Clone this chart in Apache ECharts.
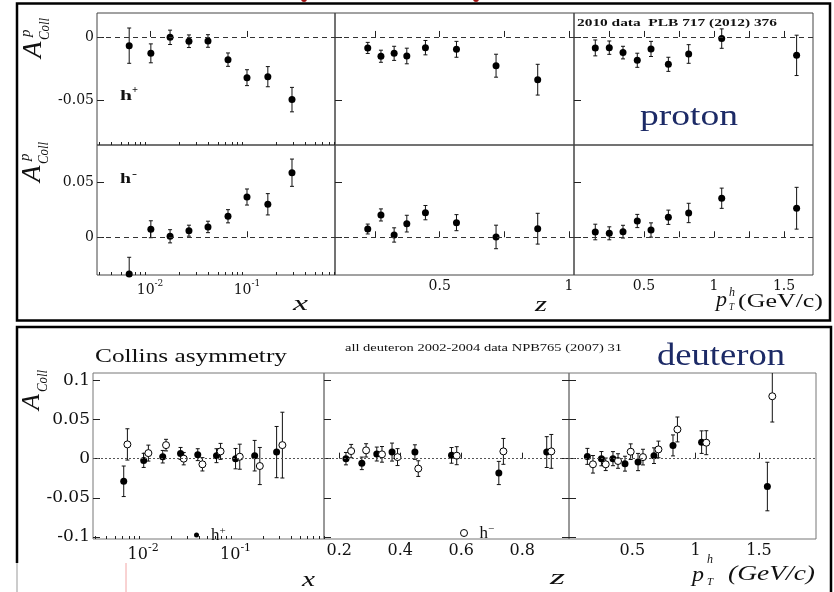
<!DOCTYPE html>
<html>
<head>
<meta charset="utf-8">
<script src="https://cdn.jsdelivr.net/npm/echarts@6/dist/echarts.min.js"></script>
<style>
html, body { margin: 0; background: #fff; }
#chart { width: 834px; height: 592px; }
</style>
</head>
<body>
<div id="chart"></div>
<script>
// ---- proton 2010 (all h+ / h- filled points) ----
const protonX = [0.0061, 0.0102, 0.0161, 0.0252, 0.0396, 0.0637, 0.100, 0.164, 0.291]
const protonZ = [0.222, 0.273, 0.324, 0.373, 0.445, 0.565, 0.718, 0.879]
const protonPt = [0.152, 0.252, 0.350, 0.452, 0.550, 0.674, 0.819, 1.055, 1.590]

const protonHpX = [-0.0069, -0.0130, -0.0003, -0.0034, -0.0032, -0.0180, -0.0323, -0.0315, -0.0497]
const protonHpXErr = [0.0140, 0.0075, 0.0057, 0.0050, 0.0050, 0.0053, 0.0063, 0.0080, 0.0097]
const protonHpZ = [-0.0087, -0.0153, -0.0130, -0.0151, -0.0085, -0.0098, -0.0228, -0.0339]
const protonHpZErr = [0.0044, 0.0048, 0.0056, 0.0062, 0.0057, 0.0063, 0.0091, 0.0122]
const protonHpPt = [-0.0087, -0.0085, -0.0124, -0.0185, -0.0095, -0.0217, -0.0135, -0.0013, -0.0146]
const protonHpPtErr = [0.0063, 0.0053, 0.0050, 0.0056, 0.0060, 0.0056, 0.0074, 0.0077, 0.0160]

const protonHmX = [-0.0334, 0.0073, 0.0009, 0.0060, 0.0094, 0.0191, 0.0366, 0.0300, 0.0587]
const protonHmXErr = [0.0152, 0.0077, 0.0060, 0.0050, 0.0052, 0.0060, 0.0073, 0.0097, 0.0124]
const protonHmZ = [0.0075, 0.0203, 0.0021, 0.0124, 0.0224, 0.0133, 0.0003, 0.0078]
const protonHmZErr = [0.0045, 0.0055, 0.0065, 0.0076, 0.0065, 0.0073, 0.0107, 0.0140]
const protonHmPt = [0.0048, 0.0036, 0.0051, 0.0148, 0.0066, 0.0182, 0.0221, 0.0355, 0.0264]
const protonHmPtErr = [0.0071, 0.0059, 0.0058, 0.0060, 0.0065, 0.0065, 0.0088, 0.0092, 0.0190]

// ---- deuteron 2002-2004 (h+ filled, h- open) ----
const deutXPos = [0.00617, 0.01015, 0.0163, 0.0254, 0.0390, 0.0622, 0.100, 0.161, 0.278]
const deutXNeg = [0.00676, 0.0114, 0.0177, 0.0275, 0.0438, 0.0688, 0.111, 0.183, 0.321]
const deutZPos = [0.222, 0.274, 0.323, 0.373, 0.448, 0.568, 0.723, 0.880]
const deutZNeg = [0.239, 0.288, 0.340, 0.391, 0.459, 0.585, 0.738, 0.895]
const deutPtPos = [0.145, 0.256, 0.347, 0.442, 0.545, 0.671, 0.821, 1.047, 1.566]
const deutPtNeg = [0.189, 0.290, 0.387, 0.487, 0.584, 0.706, 0.856, 1.084, 1.605]

const deutHpX = [-0.0289, -0.0022, 0.0025, 0.0067, 0.0051, 0.0038, 0.0000, 0.0038, 0.0084]
const deutHpXErr = [0.0195, 0.0090, 0.0080, 0.0076, 0.0076, 0.0089, 0.0130, 0.0195, 0.0327]
const deutHmX = [0.0182, 0.0071, 0.0173, 0.0000, -0.0072, 0.0093, 0.0025, -0.0094, 0.0173]
const deutHmXErr = [0.0200, 0.0102, 0.0074, 0.0079, 0.0085, 0.0102, 0.0160, 0.0237, 0.0420]
const deutHpZ = [0.0000, -0.0060, 0.0059, 0.0084, 0.0084, 0.0042, -0.0183, 0.0084]
const deutHpZErr = [0.0079, 0.0080, 0.0089, 0.0115, 0.0093, 0.0100, 0.0148, 0.0197]
const deutHmZ = [0.0097, 0.0106, 0.0055, 0.0020, -0.0127, 0.0038, 0.0093, 0.0093]
const deutHmZErr = [0.0085, 0.0085, 0.0100, 0.0108, 0.0100, 0.0115, 0.0165, 0.0216]
const deutHpPt = [0.0029, 0.0000, 0.0000, -0.0064, -0.0043, 0.0038, 0.0169, 0.0211, -0.0356]
const deutHpPtErr = [0.0102, 0.0091, 0.0090, 0.0095, 0.0110, 0.0100, 0.0134, 0.0144, 0.0310]
const deutHmPt = [-0.0072, -0.0072, -0.0030, 0.0089, 0.0020, 0.0118, 0.0373, 0.0204, 0.0797]
const deutHmPtErr = [0.0112, 0.0080, 0.0093, 0.0100, 0.0100, 0.0106, 0.0159, 0.0153, 0.0329]

// ---- ticks / labels ----
const logMajor = [0.01, 0.1]
const logMinor = [0.003, 0.004, 0.005, 0.006, 0.007, 0.008, 0.009, 0.02, 0.03, 0.04, 0.05,
  0.06, 0.07, 0.08, 0.09, 0.2, 0.3, 0.4, 0.5, 0.6, 0.7, 0.8, 0.9]
const zTicksP = [0.25, 0.5, 0.75, 1]
const zLabelsP = [0.5, 1]
const ptTicksP = [0.25, 0.5, 0.75, 1, 1.25, 1.5]
const ptLabels = [0.5, 1, 1.5]
const zTicksD = [0.2, 0.4, 0.6, 0.8]
const yTicksP1 = [-0.05, 0]
const yTicksP2 = [0, 0.05]
const yTicksD = [-0.1, -0.05, 0, 0.05, 0.1]

const SERIF = '"Liberation Serif", "DejaVu Serif", serif'
const TICKF = '"DejaVu Serif", serif'
const NAVY = '#1c2a66'

const chart = echarts.init(document.getElementById('chart'))

const grids = [
  { left: 97, top: 13, width: 238, height: 132 },
  { left: 335, top: 13, width: 239, height: 132 },
  { left: 574, top: 13, width: 239, height: 132 },
  { left: 97, top: 145, width: 238, height: 130 },
  { left: 335, top: 145, width: 239, height: 130 },
  { left: 574, top: 145, width: 239, height: 130 },
  { left: 93, top: 373, width: 231, height: 166 },
  { left: 324, top: 373, width: 245, height: 166 },
  { left: 569, top: 373, width: 247, height: 166 },
].map((g, i) => ({
  ...g, show: true, borderWidth: 1, borderColor: i < 6 ? '#444' : '#777',
  backgroundColor: 'transparent', containLabel: false, outerBoundsMode: 'none',
}))

const logFmt = v => `{b|10}{s|${Math.round(Math.log10(v))}}`
const numFmt = v => String(+(+v).toFixed(3))

function xAx(g, type, min, max, ticks, labels, fs) {
  const ax = {
    type, gridIndex: g, min, max, position: 'bottom',
    axisLine: { show: false }, splitLine: { show: false },
    axisTick: { show: true, inside: true, length: 6, customValues: ticks, lineStyle: { color: '#222' } },
    axisLabel: { show: !!labels, customValues: labels || [], margin: 4, color: '#111',
      fontFamily: TICKF, fontSize: fs, formatter: numFmt },
  }
  if (type === 'log') {
    ax.logBase = 10
    ax.axisLabel.formatter = logFmt
    ax.axisLabel.rich = {
      b: { fontFamily: TICKF, fontSize: fs, color: '#111', lineHeight: fs + 4, verticalAlign: 'bottom' },
      s: { fontFamily: TICKF, fontSize: fs - 5, color: '#111', lineHeight: fs + 4, verticalAlign: 'top' },
    }
  }
  return ax
}
function minorAx(g, min, max) {
  return {
    type: 'log', logBase: 10, gridIndex: g, min, max, position: 'bottom',
    axisLine: { show: false }, splitLine: { show: false },
    axisTick: { show: true, inside: true, length: 3, customValues: logMinor, lineStyle: { color: '#222' } },
    axisLabel: { show: false },
  }
}
function yAx(g, min, max, ticks, showLabel, fs, pos) {
  return {
    type: 'value', gridIndex: g, min, max, position: pos || 'left',
    axisLine: { show: false }, splitLine: { show: false },
    axisTick: { show: true, inside: true, length: 7, customValues: ticks, lineStyle: { color: '#222' } },
    axisLabel: { show: showLabel, customValues: ticks, margin: 3, color: '#111',
      fontFamily: TICKF, fontSize: fs, formatter: numFmt },
  }
}

const P1 = [-0.0857, 0.019], P2 = [-0.0343, 0.0839], D = [-0.1026, 0.1094]
const LOGP = [0.00284, 0.808], LOGD = [0.00287, 0.905]

const xAxes = [
  xAx(0, 'log', LOGP[0], LOGP[1], logMajor, null, 14),
  xAx(1, 'value', 0.0954, 1.0193, zTicksP, null, 14),
  xAx(2, 'value', 0, 1.707, ptTicksP, null, 14),
  xAx(3, 'log', LOGP[0], LOGP[1], logMajor, logMajor, 14),
  xAx(4, 'value', 0.0954, 1.0193, zTicksP, zLabelsP, 14),
  xAx(5, 'value', 0, 1.707, ptTicksP, ptLabels, 14),
  xAx(6, 'log', LOGD[0], LOGD[1], logMajor, logMajor, 16),
  xAx(7, 'value', 0.15, 0.953, zTicksD, zTicksD, 16),
  xAx(8, 'value', 0, 1.95, ptLabels, ptLabels, 16),
  minorAx(0, LOGP[0], LOGP[1]),
  minorAx(3, LOGP[0], LOGP[1]),
  minorAx(6, LOGD[0], LOGD[1]),
]
const yAxes = [
  yAx(0, P1[0], P1[1], yTicksP1, true, 14),
  yAx(1, P1[0], P1[1], yTicksP1, false, 14),
  yAx(2, P1[0], P1[1], yTicksP1, false, 14),
  yAx(3, P2[0], P2[1], yTicksP2, true, 14),
  yAx(4, P2[0], P2[1], yTicksP2, false, 14),
  yAx(5, P2[0], P2[1], yTicksP2, false, 14),
  yAx(6, D[0], D[1], yTicksD, true, 17),
  yAx(7, D[0], D[1], yTicksD, false, 17),
  yAx(8, D[0], D[1], yTicksD, false, 17),
  yAx(7, D[0], D[1], yTicksD, false, 17, 'right'),
]

function renderErr(params, api) {
  const x = api.value(0)
  const lo = api.coord([x, api.value(1)])
  const hi = api.coord([x, api.value(2)])
  const c = 2
  const st = { stroke: '#111', lineWidth: 1 }
  return {
    type: 'group', children: [
      { type: 'line', shape: { x1: lo[0], y1: lo[1], x2: hi[0], y2: hi[1] }, style: st },
      { type: 'line', shape: { x1: lo[0] - c, y1: lo[1], x2: lo[0] + c, y2: lo[1] }, style: st },
      { type: 'line', shape: { x1: hi[0] - c, y1: hi[1], x2: hi[0] + c, y2: hi[1] }, style: st },
    ],
  }
}

const DASH = { color: '#333', type: [5, 4], width: 1 }
const DOT = { color: '#555', type: [2, 2], width: 1 }

const series = []
function addSet(g, xs, ys, errs, name, open, zero) {
  const err = {
    type: 'custom', name: name + ' err', xAxisIndex: g, yAxisIndex: g, clip: true, z: 2, silent: true,
    data: xs.map((x, i) => [x, ys[i] - errs[i], ys[i] + errs[i]]),
    encode: { x: 0, y: [1, 2] }, renderItem: renderErr,
  }
  if (zero) {
    err.markLine = {
      silent: true, symbol: ['none', 'none'], label: { show: false }, animation: false,
      lineStyle: zero, data: [{ yAxis: 0 }],
    }
  }
  series.push(err)
  series.push({
    type: 'scatter', name, xAxisIndex: g, yAxisIndex: g, z: 3, silent: true,
    symbol: 'circle', symbolSize: 7,
    itemStyle: open ? { color: '#fff', borderColor: '#000', borderWidth: 1, opacity: 1 } : { color: '#000', opacity: 1 },
    data: xs.map((x, i) => [x, ys[i]]),
  })
}

addSet(0, protonX, protonHpX, protonHpXErr, 'p h+ x', false, DASH)
addSet(1, protonZ, protonHpZ, protonHpZErr, 'p h+ z', false, DASH)
addSet(2, protonPt, protonHpPt, protonHpPtErr, 'p h+ pt', false, DASH)
addSet(3, protonX, protonHmX, protonHmXErr, 'p h- x', false, DASH)
addSet(4, protonZ, protonHmZ, protonHmZErr, 'p h- z', false, DASH)
addSet(5, protonPt, protonHmPt, protonHmPtErr, 'p h- pt', false, DASH)
addSet(6, deutXPos, deutHpX, deutHpXErr, 'h+', false, DOT)
addSet(6, deutXNeg, deutHmX, deutHmXErr, 'h\u2212', true, null)
addSet(7, deutZPos, deutHpZ, deutHpZErr, 'h+', false, DOT)
addSet(7, deutZNeg, deutHmZ, deutHmZErr, 'h\u2212', true, null)
addSet(8, deutPtPos, deutHpPt, deutHpPtErr, 'h+', false, DOT)
addSet(8, deutPtNeg, deutHmPt, deutHmPtErr, 'h\u2212', true, null)

// text helpers (stretch to the width seen in the picture)
const mctx = document.createElement('canvas').getContext('2d')
function fitX(text, font, w) {
  if (!w) return 1
  mctx.font = font
  return w / mctx.measureText(text).width
}
function label(text, x, y, font, w, fill) {
  return {
    type: 'text', x, y, scaleX: fitX(text, font, w), silent: true,
    style: { text, font, fill: fill || '#111', textAlign: 'left', align: 'left',
      textVerticalAlign: 'middle', verticalAlign: 'middle' },
  }
}
function f(size, style) { return `${style ? style + ' ' : ''}${size}px ${SERIF}` }
function yTitle(x, y, sup, aSize) {
  const kids = [label('A', 0, 0, f(aSize, 'italic'), null)]
  if (sup) kids.push(label('p', 21, -8, f(15, 'italic'), null))
  kids.push(label('Coll', 18, 11, f(15, 'italic'), 22))
  return { type: 'group', x, y, rotation: Math.PI / 2, children: kids }
}

const legendText = {
  fontFamily: SERIF, fontSize: 17, color: '#111', padding: [0, 0, 0, 7],
  rich: {
    h: { fontFamily: SERIF, fontSize: 17, color: '#111', lineHeight: 18, verticalAlign: 'bottom' },
    s: { fontFamily: SERIF, fontSize: 11, color: '#111', lineHeight: 18, verticalAlign: 'top' },
  },
}

chart.setOption({
  animation: false,
  backgroundColor: '#fff',
  textStyle: { fontFamily: SERIF },
  grid: grids,
  xAxis: xAxes,
  yAxis: yAxes,
  legend: [
    {
      data: [{ name: 'h+', icon: 'circle', itemStyle: { color: '#000' } }],
      left: 194, top: 526, itemWidth: 5, itemHeight: 5, padding: 0, selectedMode: false,
      formatter: () => '{h|h}{s|+}', textStyle: legendText,
    },
    {
      data: [{ name: 'h\u2212', icon: 'circle', itemStyle: { color: '#fff', borderColor: '#000', borderWidth: 1 } }],
      left: 460, top: 524, itemWidth: 7, itemHeight: 7, padding: 0, selectedMode: false,
      formatter: () => '{h|h}{s|\u2212}', textStyle: legendText,
    },
  ],
  series,
  graphic: [
    { type: 'rect', silent: true, shape: { x: 17, y: 3.5, width: 813, height: 317 },
      style: { fill: 'none', stroke: '#000', lineWidth: 2.5 } },
    { type: 'polyline', silent: true, shape: { points: [[17, 563], [17, 327], [831, 327], [831, 600]] },
      style: { fill: 'none', stroke: '#000', lineWidth: 2.5 } },
    { type: 'line', silent: true, shape: { x1: 17, y1: 563, x2: 17, y2: 592 }, style: { stroke: '#999', lineWidth: 1 } },
    { type: 'line', silent: true, shape: { x1: 126, y1: 563, x2: 126, y2: 592 }, style: { stroke: '#f2a6a6', lineWidth: 1 } },
    { type: 'circle', silent: true, shape: { cx: 304, cy: -1, r: 3 }, style: { fill: '#a31212' } },
    { type: 'circle', silent: true, shape: { cx: 476, cy: -1, r: 3 }, style: { fill: '#a31212' } },

    // proton panel
    yTitle(34, 58, true, 27),
    yTitle(33, 182, true, 27),
    label('h', 120, 96, f(14, 'bold'), 12),
    label('+', 132, 90, f(10, 'bold'), 6),
    label('h', 120, 179, f(14, 'bold'), 11),
    label('-', 132, 174, f(11, 'bold'), 5),
    label('2010 data  PLB 717 (2012) 376', 577, 23, f(11, 'bold'), 200),
    label('proton', 640, 117, f(30), 98, NAVY),
    label('x', 293, 304, f(22, 'italic'), 15),
    label('z', 535, 305, f(22, 'italic'), 12),
    label('p', 716, 300, f(21, 'italic'), 11),
    label('h', 729, 293, f(12, 'italic'), 6),
    label('T', 729, 307, f(11, 'italic'), 5),
    label('(GeV/c)', 738, 302, f(19), 85),

    // deuteron panel
    yTitle(32, 410, false, 26),
    label('Collins asymmetry', 95, 357, f(19), 192),
    label('all deuteron 2002-2004 data NPB765 (2007) 31', 345, 348, f(11), 277),
    label('deuteron', 657, 357, f(31), 128, NAVY),
    label('x', 302, 580, f(22, 'italic'), 13),
    label('z', 550, 578, f(22, 'italic'), 15),
    label('p', 692, 575, f(22, 'italic'), 12),
    label('h', 707, 560, f(13, 'italic'), 6),
    label('T', 707, 582, f(11, 'italic'), 6),
    label('(GeV/c)', 728, 575, f(20, 'italic'), 87),
  ],
})
</script>
</body>
</html>
